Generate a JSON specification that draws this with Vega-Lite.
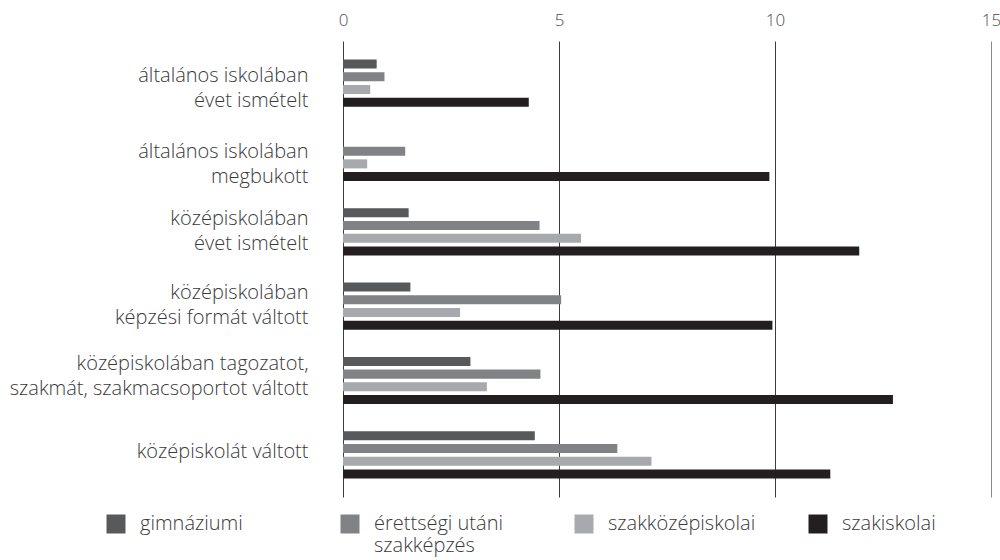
{
  "$schema": "https://vega.github.io/schema/vega-lite/v6.json",
  "width": 648,
  "height": 456,
  "padding": {"top": 11, "left": 9, "right": 0, "bottom": 5},
  "background": "white",
  "config": {
    "view": {"stroke": null},
    "font": "Open Sans",
    "axis": {"labelFont": "Open Sans", "labelFontWeight": 300},
    "legend": {"labelFont": "Open Sans", "labelFontWeight": 300}
  },
  "data": {
    "values": [
      {"group": "általános iskolában|évet ismételt", "type": "gimnáziumi", "value": 0.78},
      {"group": "általános iskolában|évet ismételt", "type": "érettségi utáni szakképzés", "value": 0.96},
      {"group": "általános iskolában|évet ismételt", "type": "szakközépiskolai", "value": 0.63},
      {"group": "általános iskolában|évet ismételt", "type": "szakiskolai", "value": 4.30},
      {"group": "általános iskolában|megbukott", "type": "gimnáziumi", "value": 0},
      {"group": "általános iskolában|megbukott", "type": "érettségi utáni szakképzés", "value": 1.44},
      {"group": "általános iskolában|megbukott", "type": "szakközépiskolai", "value": 0.56},
      {"group": "általános iskolában|megbukott", "type": "szakiskolai", "value": 9.87},
      {"group": "középiskolában|évet ismételt", "type": "gimnáziumi", "value": 1.52},
      {"group": "középiskolában|évet ismételt", "type": "érettségi utáni szakképzés", "value": 4.55},
      {"group": "középiskolában|évet ismételt", "type": "szakközépiskolai", "value": 5.51},
      {"group": "középiskolában|évet ismételt", "type": "szakiskolai", "value": 11.95},
      {"group": "középiskolában|képzési formát váltott", "type": "gimnáziumi", "value": 1.56},
      {"group": "középiskolában|képzési formát váltott", "type": "érettségi utáni szakképzés", "value": 5.05},
      {"group": "középiskolában|képzési formát váltott", "type": "szakközépiskolai", "value": 2.71},
      {"group": "középiskolában|képzési formát váltott", "type": "szakiskolai", "value": 9.94},
      {"group": "középiskolában tagozatot,|szakmát, szakmacsoportot váltott", "type": "gimnáziumi", "value": 2.95},
      {"group": "középiskolában tagozatot,|szakmát, szakmacsoportot váltott", "type": "érettségi utáni szakképzés", "value": 4.57},
      {"group": "középiskolában tagozatot,|szakmát, szakmacsoportot váltott", "type": "szakközépiskolai", "value": 3.33},
      {"group": "középiskolában tagozatot,|szakmát, szakmacsoportot váltott", "type": "szakiskolai", "value": 12.73},
      {"group": "középiskolát váltott", "type": "gimnáziumi", "value": 4.44},
      {"group": "középiskolát váltott", "type": "érettségi utáni szakképzés", "value": 6.35},
      {"group": "középiskolát váltott", "type": "szakközépiskolai", "value": 7.14},
      {"group": "középiskolát váltott", "type": "szakiskolai", "value": 11.28}
    ]
  },
  "mark": {"type": "bar", "cornerRadius": 0},
  "encoding": {
    "y": {
      "field": "group",
      "type": "nominal",
      "sort": null,
      "scale": {"paddingInner": 0.365, "paddingOuter": 0.25},
      "axis": {
        "title": null,
        "orient": "left",
        "domain": false,
        "ticks": false,
        "labelExpr": "split(datum.label, '|')",
        "labelFontSize": 20,
        "labelLineHeight": 25,
        "labelColor": "#3a3a3a",
        "labelPadding": 35,
        "labelLimit": 400,
        "labelOffset": {
          "condition": [
            {"test": "datum.value == 'általános iskolában|évet ismételt'", "value": -7},
            {"test": "datum.value == 'általános iskolában|megbukott'", "value": -6},
            {"test": "datum.value == 'középiskolában|évet ismételt'", "value": -13},
            {"test": "datum.value == 'középiskolában|képzési formát váltott'", "value": -13},
            {"test": "datum.value == 'középiskolában tagozatot,|szakmát, szakmacsoportot váltott'", "value": -16}
          ],
          "value": -3
        }
      }
    },
    "yOffset": {
      "field": "type",
      "type": "nominal",
      "sort": ["gimnáziumi", "érettségi utáni szakképzés", "szakközépiskolai", "szakiskolai"],
      "scale": {"paddingInner": 0.29, "paddingOuter": 0}
    },
    "x": {
      "field": "value",
      "type": "quantitative",
      "scale": {"domain": [0, 15], "nice": false},
      "axis": {
        "title": null,
        "orient": "top",
        "values": [0, 5, 10, 15],
        "domain": false,
        "ticks": false,
        "grid": true,
        "gridColor": {"condition": {"test": "datum.value == 15", "value": "#8a8a8a"}, "value": "#3d3d3d"},
        "gridWidth": 1,
        "gridOpacity": 1,
        "labelFlush": false,
        "labelFontSize": 17,
        "labelColor": "#4a4a4a",
        "labelPadding": 12,
        "labelBaseline": "bottom"
      }
    },
    "color": {
      "field": "type",
      "type": "nominal",
      "sort": ["gimnáziumi", "érettségi utáni szakképzés", "szakközépiskolai", "szakiskolai"],
      "scale": {
        "domain": ["gimnáziumi", "érettségi utáni szakképzés", "szakközépiskolai", "szakiskolai"],
        "range": ["#58595b", "#808285", "#a7a9ac", "#231f20"]
      },
      "legend": {
        "title": null,
        "orient": "none",
        "legendX": -237,
        "legendY": 473,
        "direction": "horizontal",
        "columns": 4,
        "gridAlign": "all",
        "columnPadding": 52,
        "symbolType": "square",
        "symbolSize": 361,
        "symbolStrokeWidth": 0,
        "symbolOpacity": 1,
        "labelFontSize": 20,
        "labelColor": "#3a3a3a",
        "labelOffset": 14,
        "labelLimit": 300,
        "labelBaseline": "middle",
        "labelExpr": "datum.label == 'érettségi utáni szakképzés' ? ['érettségi utáni', 'szakképzés'] : [datum.label, '']",
        "labelLineHeight": 25
      }
    }
  }
}
